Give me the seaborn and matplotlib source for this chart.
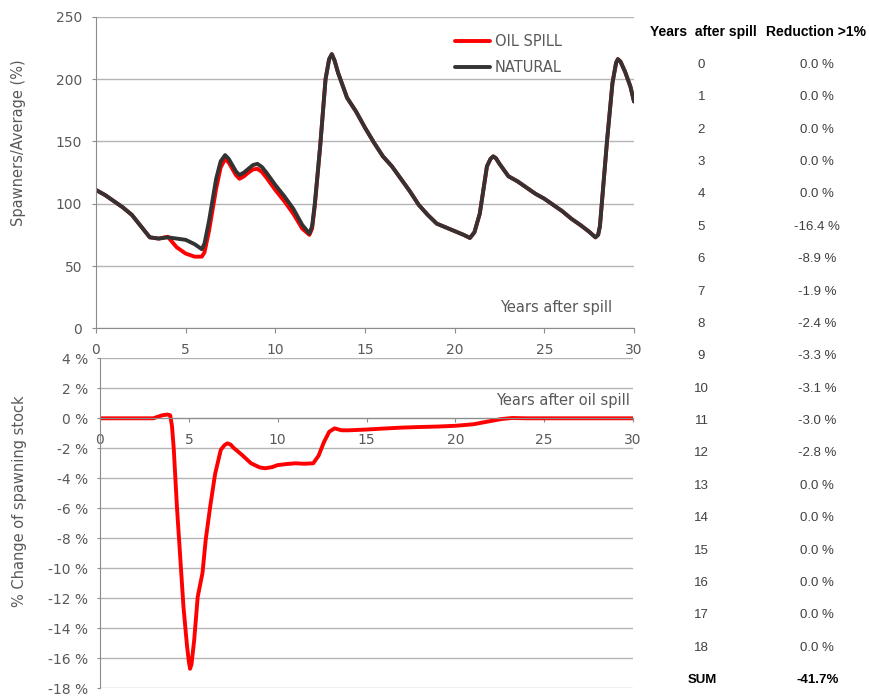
import seaborn as sns
import matplotlib.pyplot as plt

# Spawners relative to average (%)
years = [0, 0.5, 1, 1.5, 2, 2.5, 3, 3.5, 4, 4.5, 5, 5.5, 5.9, 6.05, 6.3, 6.7, 6.95,
         7.2, 7.4, 7.6, 7.8, 8, 8.25, 8.5, 8.75, 9, 9.25, 9.5, 10, 10.5, 11, 11.5,
         11.9, 12.05, 12.2, 12.5, 12.8, 13.0, 13.15, 13.3, 13.5,
         14, 14.5, 15, 15.5, 16, 16.5, 17, 17.5, 18, 18.5, 19, 19.5, 20, 20.5,
         20.85, 21.1, 21.4, 21.8, 22.0, 22.15, 22.3, 22.5, 23, 23.5, 24, 24.5,
         25, 25.5, 26, 26.5, 27, 27.5, 27.85, 28.0, 28.1, 28.5, 28.8, 29.0, 29.1,
         29.25, 29.5, 29.8, 30]
natural = [111, 107, 102, 97, 91, 82, 73, 72, 73, 72, 71, 67.5, 63.5, 68, 86, 120, 134,
           139, 136, 131, 126, 123, 125, 128, 131, 132, 129.5, 125, 115, 106, 96, 83,
           76, 82, 100, 146, 200, 216, 220, 215, 205,
           185, 174, 161, 149, 138, 130, 120, 110, 99, 91, 84, 81, 78, 75,
           72.5, 77, 92, 130, 136, 138, 136.5, 132, 122, 118, 113, 108,
           104, 99, 94, 88, 83, 77.5, 73, 75, 82, 151, 197, 213, 216,
           214, 206, 194, 182]
oil_spill = [111, 107, 102, 97, 91, 82, 73, 72, 73.5, 65, 60, 57.5, 57.5, 61, 78, 112, 129,
             136, 133, 128, 123, 120, 122, 125, 127.5, 128, 125.5, 121, 111, 102, 92, 80,
             75, 80, 98, 146, 200, 216, 220, 215, 205,
             185, 174, 161, 149, 138, 130, 120, 110, 99, 91, 84, 81, 78, 75,
             72.5, 77, 92, 130, 136, 138, 136.5, 132, 122, 118, 113, 108,
             104, 99, 94, 88, 83, 77.5, 73, 75, 82, 151, 197, 213, 216,
             214, 206, 194, 182]
assert len(years) == len(natural) == len(oil_spill)

# % change of spawning stock
change_years = [0, 3, 3.5, 3.8, 3.95, 4.05, 4.15, 4.33, 4.7, 4.9, 5.0, 5.07, 5.15, 5.3, 5.5,
                5.77, 5.95, 6.2, 6.48, 6.8, 7.0, 7.17, 7.35, 7.5, 8, 8.5, 9, 9.3, 9.7, 10,
                10.5, 11, 11.5, 12, 12.3, 12.6, 12.9, 13.2, 13.6, 14, 15, 16, 17, 18, 19,
                20, 21, 22, 22.6, 23.2, 24, 25, 30]
change_pct = [0, 0, 0.2, 0.25, 0.2, -0.5, -2.0, -5.9, -12.6, -15.2, -16.2, -16.7, -16.4, -14.8, -11.9,
              -10.3, -8.1, -5.9, -3.7, -2.1, -1.8, -1.67, -1.75, -1.95, -2.45, -3.0, -3.28, -3.33, -3.25, -3.12,
              -3.05, -3.0, -3.03, -3.0, -2.5, -1.6, -0.9, -0.67, -0.8, -0.8, -0.75, -0.68, -0.62, -0.58, -0.55,
              -0.5, -0.4, -0.18, -0.05, 0.02, 0.0, 0.0, 0.0]
assert len(change_years) == len(change_pct)

# table on the right
table_years = ['0', '1', '2', '3', '4', '5', '6', '7', '8', '9', '10', '11', '12',
               '13', '14', '15', '16', '17', '18']
table_reduction = ['0.0 %', '0.0 %', '0.0 %', '0.0 %', '0.0 %', '-16.4 %', '-8.9 %',
                   '-1.9 %', '-2.4 %', '-3.3 %', '-3.1 %', '-3.0 %', '-2.8 %', '0.0 %',
                   '0.0 %', '0.0 %', '0.0 %', '0.0 %', '0.0 %']
table_sum = '-41.7%'

sns.set_style('white')
plt.rcParams['font.family'] = ['DejaVu Sans']

TXT = '#595959'
GRID = '#b4b4b4'
SPINE = '#8c8c8c'
W, H = 869, 696

fig = plt.figure(figsize=(W / 100, H / 100), dpi=100)
ax1 = fig.add_axes([96 / W, 1 - 328.3 / H, 538 / W, 311.5 / H])
ax2 = fig.add_axes([100 / W, 1 - 688.3 / H, 533 / W, 330 / H])

# upper panel
sns.lineplot(x=years, y=oil_spill, ax=ax1, color='#ff0000', lw=2.8, label='OIL SPILL')
sns.lineplot(x=years, y=natural, ax=ax1, color='#333333', lw=2.8, label='NATURAL')
ax1.set_xlim(0, 30)
ax1.set_ylim(0, 250)
ax1.set_xticks(range(0, 31, 5))
ax1.set_yticks(range(0, 251, 50))
ax1.grid(axis='y', color=GRID, lw=1)
ax1.set_axisbelow(True)
for s in ['top', 'right']:
    ax1.spines[s].set_visible(False)
for s in ['left', 'bottom']:
    ax1.spines[s].set_color(SPINE)
ax1.tick_params(axis='x', direction='out', length=3.6, color=SPINE, pad=7,
                labelsize=10, labelcolor=TXT, bottom=True)
ax1.tick_params(axis='y', direction='out', length=2.9, color=SPINE, pad=7,
                labelsize=10, labelcolor=TXT, left=True)
ax1.set_xlabel('')
ax1.set_ylabel('')
ax1.text(0.959, 0.0675, 'Years after spill', transform=ax1.transAxes,
         ha='right', va='center', fontsize=10.5, color=TXT)
ax1.legend(loc='upper left', bbox_to_anchor=(455 / W, 1 - 34.5 / H),
           bbox_transform=fig.transFigure, frameon=False, handlelength=2.4,
           handletextpad=0.35, labelspacing=0.75, borderpad=0, borderaxespad=0,
           fontsize=10.5, labelcolor=TXT)

# lower panel
sns.lineplot(x=change_years, y=change_pct, ax=ax2, color='#ff0000', lw=2.8)
ax2.set_xlim(0, 30)
ax2.set_ylim(-18, 4)
ax2.set_xticks(range(0, 31, 5))
yt = list(range(-18, 5, 2))
ax2.set_yticks(yt)
ax2.set_yticklabels([f'{v} %' for v in yt])
ax2.grid(axis='y', color=GRID, lw=1)
ax2.set_axisbelow(True)
for s in ['top', 'right']:
    ax2.spines[s].set_visible(False)
ax2.spines['bottom'].set_position(('data', 0))
for s in ['left', 'bottom']:
    ax2.spines[s].set_color(SPINE)
ax2.tick_params(axis='x', direction='out', length=3.2, color=SPINE, pad=7.5,
                labelsize=10, labelcolor=TXT, bottom=True)
ax2.tick_params(axis='y', direction='out', length=2.2, color=SPINE, pad=6.5,
                labelsize=10, labelcolor=TXT, left=True)
ax2.set_xlabel('')
ax2.set_ylabel('')
ax2.text(0.994, 0.8736, 'Years after oil spill', transform=ax2.transAxes,
         ha='right', va='center', fontsize=10.5, color=TXT)

# y labels
fig.text(18.3 / W, 1 - 142.5 / H, 'Spawners/Average (%)', rotation=90,
         ha='center', va='center', fontsize=10.5, color=TXT)
fig.text(20 / W, 1 - 501 / H, '% Change of spawning stock', rotation=90,
         ha='center', va='center', fontsize=10.5, color=TXT)

# table
tfont = dict(family='Liberation Sans', fontsize=9.5, ha='center', va='center')
hfont = dict(family='Liberation Sans', fontsize=10, fontweight='bold', color='black', va='center')
fig.text(650 / W, 1 - 31.7 / H, 'Years  after spill', ha='left', **hfont)
fig.text(866 / W, 1 - 31.7 / H, 'Reduction >1%', ha='right', **hfont)
for i, (yr, red) in enumerate(zip(table_years, table_reduction)):
    yy = 1 - (65 + 32.37 * i) / H
    fig.text(701.5 / W, yy, yr, color='#404040', **tfont)
    fig.text(817 / W, yy, red, color='#404040', **tfont)
yy = 1 - (65 + 32.37 * len(table_years)) / H
fig.text(702 / W, yy, 'SUM', fontweight='bold', color='black', **tfont)
fig.text(817.5 / W, yy, table_sum, fontweight='bold', color='black', **tfont)

fig.savefig('out.png', dpi=100)
